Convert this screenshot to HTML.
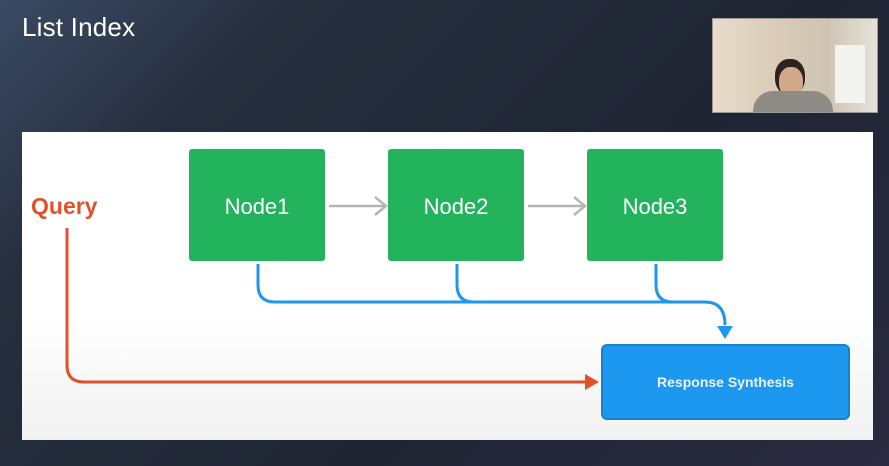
<!DOCTYPE html>
<html><head><style>
html,body{margin:0;padding:0}
body{width:889px;height:466px;overflow:hidden;position:relative;background:linear-gradient(135deg,#3a4a63 0%,#262e3d 22%,#1f2533 60%,#2a2a40 100%);font-family:"Liberation Sans",sans-serif}
.title{position:absolute;left:22px;top:12px;color:#fff;font-size:26px;letter-spacing:0.2px}
.cam{position:absolute;left:712px;top:18px;width:164px;height:93px;background:linear-gradient(90deg,#e8dccb 0%,#d9cbb7 40%,#cfc4b3 70%,#e6e2da 100%);border:1px solid #999}
.panel{position:absolute;left:22px;top:132px;width:851px;height:308px;background:linear-gradient(#fff 60%,#f1f1f1)}
.node{position:absolute;top:149px;width:136px;height:112px;background:#23b35c;border-radius:3px;color:#fff;font-size:22px;display:flex;align-items:center;justify-content:center;padding-top:4px;box-sizing:border-box}
.rs{position:absolute;left:601px;top:344px;width:245px;height:72px;background:#1d98f0;border:2px solid #1a7fcc;border-radius:6px;color:#e8f4ff;font-weight:bold;font-size:14px;display:flex;align-items:center;justify-content:center}
.q{position:absolute;left:31px;top:193px;color:#e0532a;font-weight:bold;font-size:23px}
</style></head><body>
<div class="title">List Index</div>
<div class="cam">
<div style="position:absolute;left:62px;top:40px;width:30px;height:36px;border-radius:45%;background:#2a231f"></div>
<div style="position:absolute;left:66px;top:48px;width:24px;height:30px;border-radius:45%;background:#d2a888"></div>
<div style="position:absolute;left:40px;top:72px;width:80px;height:21px;background:#8d8c85;border-radius:20px 20px 0 0"></div>
<div style="position:absolute;left:122px;top:26px;width:30px;height:58px;background:#f3f3f0"></div>
</div>
<div class="panel"></div>
<div class="node" style="left:189px">Node1</div>
<div class="node" style="left:388px">Node2</div>
<div class="node" style="left:587px">Node3</div>
<div class="q">Query</div>
<svg style="position:absolute;left:0;top:0" width="889" height="466">
<g stroke="#b5b5b5" stroke-width="2.5" fill="none">
<path d="M329 206H385M375 197L386 206L375 215"/>
<path d="M528 206H584M574 197L585 206L574 215"/>
</g>
<g stroke="#2196ee" stroke-width="3" fill="none">
<path d="M258 264V285Q258 302 275 302H705Q725 302 725 325"/>
<path d="M457 264V285Q457 302 474 302"/>
<path d="M656 264V285Q656 302 673 302"/>
</g>
<path d="M717 326H733L725 339Z" fill="#2196ee"/>
<path d="M67 228V365Q67 382 84 382H587" stroke="#e0532a" stroke-width="3" fill="none"/>
<path d="M585 374L599 382L585 390Z" fill="#e0532a"/>
</svg>
<div class="rs">Response Synthesis</div>
</body></html>
